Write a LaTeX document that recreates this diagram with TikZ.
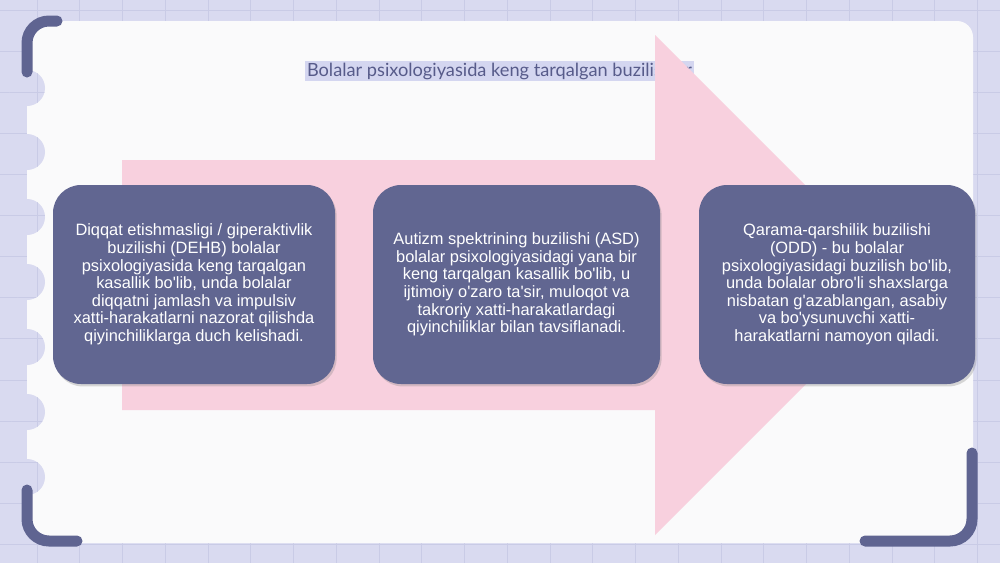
\documentclass[tikz,border=0pt]{standalone}
\usepackage{fontspec}
\setmainfont{Liberation Sans}
\newfontfamily\boxfont{Liberation Sans}
\newfontfamily\titlefont{Lato}
\usetikzlibrary{shadows}
\definecolor{bglav}{HTML}{D9DAF0}
\definecolor{gridlav}{HTML}{C9CBE6}
\definecolor{cardwhite}{HTML}{FAFAFB}
\definecolor{arrowpink}{HTML}{F8D0DE}
\definecolor{bracketblue}{HTML}{5F6491}
\definecolor{boxblue}{HTML}{616691}
\definecolor{titleblue}{HTML}{575B8A}
\definecolor{titlemark}{HTML}{D4D6F0}

\begin{document}
\begin{tikzpicture}[x=0.5pt,y=-0.5pt,
    gridline/.style={draw=gridlav,line width=0.4pt},
    bracket/.style={draw=bracketblue,line width=5.5pt,line cap=round,rounded corners=11pt},
    box/.style={fill=boxblue,rounded corners=14pt,minimum height=99.5pt,align=center,text=white,
        font=\boxfont\fontsize{8.2}{8.8}\selectfont,
        drop shadow={shadow xshift=0.8pt,shadow yshift=-1.2pt,opacity=0.3}}]
    \useasboundingbox(0,0)rectangle(1000,563);
    % background grid
    \fill[bglav](0,0)rectangle(1000,563);
    \foreach \x in {-5.75,37,...,1000} \draw[gridline](\x,0)--(\x,563);
    \foreach \y in {10,51.1,...,563} \draw[gridline](0,\y)--(1000,\y);
    % card with bumps on the left edge
    \fill[cardwhite,rounded corners=8pt](27,21)rectangle(973,543);
    \begin{scope}
        \clip \foreach \y in {88,152,217,282,347,412,477} {(27,\y)circle[radius=18]};
        \fill[bglav](0,0)rectangle(60,563);
        \foreach \x in {-5.75,37} \draw[gridline](\x,0)--(\x,563);
        \foreach \y in {10,51.1,...,563} \draw[gridline](0,\y)--(60,\y);
    \end{scope}
    \node[anchor=west,fill=titlemark,text=titleblue,inner sep=0.8pt,font=\titlefont\fontsize{9.1}{10.9}\selectfont](title)at(305, 71){Bolalar psixologiyasida keng tarqalgan buzilishlar};
    % big arrow
    \fill[arrowpink](122,160)--(655,160)--(655,35)--(905,285)--(655,535)--(655,410)--(122,410)--cycle;
    \node[box,minimum width=141pt](dehb)at(194, 284.5){Diqqat etishmasligi / giperaktivlik\\buzilishi (DEHB) bolalar\\psixologiyasida keng tarqalgan\\kasallik bo'lib, unda bolalar\\diqqatni jamlash va impulsiv\\xatti-harakatlarni nazorat qilishda\\qiyinchiliklarga duch kelishadi.};
    \node[box,minimum width=143.5pt](asd)at(516.5, 284.5){Autizm spektrining buzilishi (ASD)\\bolalar psixologiyasidagi yana bir\\keng tarqalgan kasallik bo'lib, u\\ijtimoiy o'zaro ta'sir, muloqot va\\takroriy xatti-harakatlardagi\\qiyinchiliklar bilan tavsiflanadi.};
    \node[box,minimum width=138pt](odd)at(837, 284.5){Qarama-qarshilik buzilishi\\(ODD) - bu bolalar\\psixologiyasidagi buzilish bo'lib,\\unda bolalar obro'li shaxslarga\\nisbatan g'azablangan, asabiy\\va bo'ysunuvchi xatti-\\harakatlarni namoyon qiladi.};
    % corner brackets
    \draw[bracket](27,72)|-(57,21);
    \draw[bracket](27,490)|-(77,541);
    \draw[bracket](972,453)|-(865,541);
\end{tikzpicture}
\end{document}
